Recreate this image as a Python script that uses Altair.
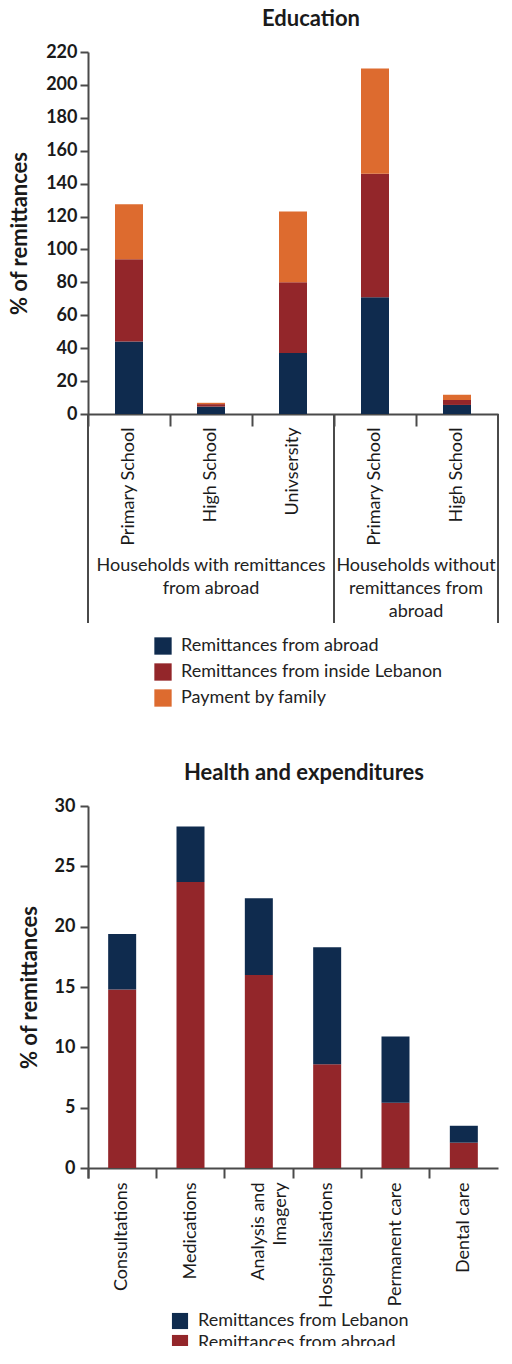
import altair as alt
import pandas as pd

FONT = "Lato"
AXIS_COLOR = "#4a4a4a"
TXT = "#1a1a1a"

# ---------------- Education data ----------------
edu_keys = ["1|Primary School", "2|High School", "3|Univsersity", "4|Primary School", "5|High School"]
edu_series = ["Remittances from abroad", "Remittances from inside Lebanon", "Payment by family"]
edu_colors = ["#0f2b4e", "#93262a", "#dd6b2f"]
edu_abroad = [44, 4.5, 37, 71, 5.5]
edu_inside = [50, 1.5, 43, 75, 3.0]
edu_family = [33.5, 0.8, 43, 64, 3.2]
edu_group_text = ["Households with remittances\nfrom abroad", "Households without\nremittances from\nabroad"]
edu_group_center_key = ["2|High School", "5|High School"]

# ---------------- Health data ----------------
hea_cats = ["Consultations", "Medications", "Analysis and Imagery", "Hospitalisations", "Permanent care", "Dental care"]
hea_series = ["Remittances from Lebanon", "Remittances from abroad"]
hea_colors = ["#0f2b4e", "#93262a"]
hea_abroad = [14.8, 23.7, 16.0, 8.6, 5.4, 2.1]
hea_lebanon = [4.6, 4.6, 6.35, 9.7, 5.5, 1.4]

rows = []
for i, k in enumerate(edu_keys):
    for j, (s, vals) in enumerate(zip(edu_series, [edu_abroad, edu_inside, edu_family])):
        rows.append({"key": k, "series": s, "value": vals[i], "ord": j})
edu_df = pd.DataFrame(rows)

rows = []
for i, c in enumerate(hea_cats):
    rows.append({"cat": c, "series": hea_series[1], "value": hea_abroad[i], "ord": 0})
    rows.append({"cat": c, "series": hea_series[0], "value": hea_lebanon[i], "ord": 1})
hea_df = pd.DataFrame(rows)

W1, H1 = 410, 362
W2, H2 = 410, 362

xscale1 = alt.Scale(domain=edu_keys, paddingInner=0, paddingOuter=0)
x_axis1 = alt.Axis(title=None, labelExpr="split(datum.value, '|')[1]", labelAngle=270,
                   bandPosition=0, tickSize=12, tickWidth=2, domainWidth=2,
                   labelPadding=1, labelFontSize=18, labelFont=FONT, labelColor=TXT,
                   domainColor=AXIS_COLOR, tickColor=AXIS_COLOR)

bars1 = alt.Chart(edu_df).mark_bar(size=28).encode(
    x=alt.X("key:N", sort=edu_keys, scale=xscale1, axis=x_axis1),
    y=alt.Y("value:Q", stack="zero", scale=alt.Scale(domain=[0, 220]),
            axis=alt.Axis(title="% of remittances", values=list(range(0, 221, 20)), grid=False,
                          tickSize=8, tickWidth=2, domainWidth=2, labelPadding=3,
                          labelFontSize=18, labelFontWeight="bold", labelFont=FONT, labelColor=TXT,
                          titleFontSize=22, titleFont=FONT, titleFontWeight="bold", titleColor=TXT,
                          titlePadding=14, domainColor=AXIS_COLOR, tickColor=AXIS_COLOR)),
    color=alt.Color("series:N", scale=alt.Scale(domain=edu_series, range=edu_colors),
                    legend=alt.Legend(title=None, orient="none", legendX=66, legendY=585,
                                      direction="vertical", symbolType="square", symbolSize=300,
                                      symbolStrokeWidth=0, labelFontSize=18, labelFont=FONT,
                                      labelColor="#222", rowPadding=8, labelOffset=9, labelLimit=0)),
    order=alt.Order("ord:Q"),
)

div_start = pd.DataFrame({"key": [edu_keys[0], edu_keys[3]]})
div_end = pd.DataFrame({"key": [edu_keys[4]]})
rule_start = alt.Chart(div_start).mark_rule(color=AXIS_COLOR, strokeWidth=2).encode(
    x=alt.X("key:N", sort=edu_keys, scale=xscale1, bandPosition=0, axis=x_axis1),
    y=alt.value(H1), y2=alt.value(H1 + 209))
rule_end = alt.Chart(div_end).mark_rule(color=AXIS_COLOR, strokeWidth=2).encode(
    x=alt.X("key:N", sort=edu_keys, scale=xscale1, bandPosition=1, axis=x_axis1),
    y=alt.value(H1), y2=alt.value(H1 + 209))

grp_df = pd.DataFrame({"key": edu_group_center_key, "text": edu_group_text})
grp1 = alt.Chart(grp_df.iloc[[0]]).mark_text(font=FONT, fontSize=18, color="#222", baseline="top",
                                           lineBreak="\n", lineHeight=23).encode(
    x=alt.X("key:N", sort=edu_keys, scale=xscale1, bandPosition=0.5, axis=x_axis1),
    y=alt.value(H1 + 143), text="text:N")
grp2 = alt.Chart(grp_df.iloc[[1]]).mark_text(font=FONT, fontSize=18, color="#222", baseline="top",
                                           lineBreak="\n", lineHeight=23).encode(
    x=alt.X("key:N", sort=edu_keys, scale=xscale1, bandPosition=0, axis=x_axis1),
    y=alt.value(H1 + 143), text="text:N")

top = alt.layer(bars1, rule_start, rule_end, grp1, grp2).properties(
    width=W1, height=H1,
    title=alt.TitleParams("Education", font=FONT, fontSize=22, fontWeight="bold", color=TXT,
                          dx=18, offset=12))

# ---------------- Health chart ----------------
xscale2 = alt.Scale(domain=hea_cats, paddingInner=0, paddingOuter=0)
bars2 = alt.Chart(hea_df).mark_bar(size=28).encode(
    x=alt.X("cat:N", sort=hea_cats, scale=xscale2,
            axis=alt.Axis(title=None,
                          labelExpr="datum.value == 'Analysis and Imagery' ? ['Analysis and', 'Imagery'] : datum.value",
                          labelAngle=270, bandPosition=0, tickExtra=True, tickSize=10, tickWidth=2,
                          domainWidth=2, labelPadding=4, labelFontSize=18, labelFont=FONT,
                          labelColor=TXT, labelLineHeight=22,
                          domainColor=AXIS_COLOR, tickColor=AXIS_COLOR)),
    y=alt.Y("value:Q", stack="zero", scale=alt.Scale(domain=[0, 30]),
            axis=alt.Axis(title="% of remittances", values=list(range(0, 31, 5)), grid=False,
                          tickSize=8, tickWidth=2, domainWidth=2, labelPadding=5,
                          labelFontSize=18, labelFontWeight="bold", labelFont=FONT, labelColor=TXT,
                          titleFontSize=22, titleFont=FONT, titleFontWeight="bold", titleColor=TXT,
                          titlePadding=13, domainColor=AXIS_COLOR, tickColor=AXIS_COLOR)),
    color=alt.Color("series:N", scale=alt.Scale(domain=hea_series, range=hea_colors),
                    legend=alt.Legend(title=None, orient="none", legendX=83, legendY=506,
                                      direction="vertical", symbolType="square", symbolSize=260,
                                      symbolStrokeWidth=0, labelFontSize=18, labelFont=FONT,
                                      labelColor="#222", rowPadding=4, labelOffset=9, labelLimit=0)),
    order=alt.Order("ord:Q"),
)

bottom = bars2.properties(
    width=W2, height=H2,
    title=alt.TitleParams("Health and expenditures", font=FONT, fontSize=22, fontWeight="bold",
                          color=TXT, dx=11, offset=12))

chart = alt.vconcat(top, bottom, spacing=55).resolve_scale(color="independent").properties(
    padding={"left": 0, "top": 0, "right": 0, "bottom": -6}
).configure_view(stroke=None).configure_concat(spacing=55)

chart.save("out.html", embed_options={"renderer": "svg", "actions": False})
